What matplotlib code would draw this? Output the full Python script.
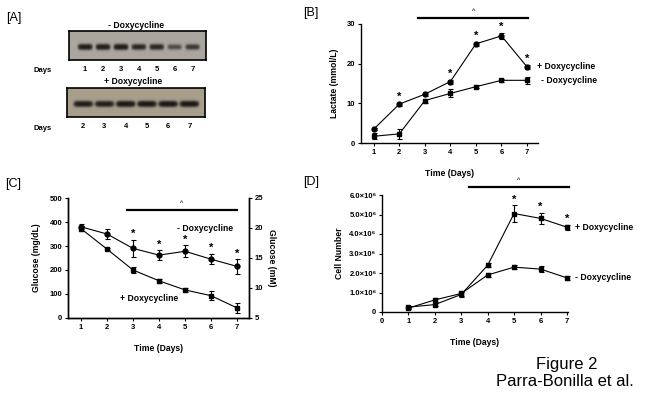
import matplotlib
matplotlib.use('Agg')
import matplotlib.pyplot as plt
import numpy as np

plt.rcParams['font.family'] = ['Liberation Sans', 'DejaVu Sans']
plt.rcParams['axes.linewidth'] = 1.0
plt.rcParams['xtick.major.size'] = 2
plt.rcParams['ytick.major.size'] = 2
plt.rcParams['xtick.major.width'] = 0.8
plt.rcParams['ytick.major.width'] = 0.8

# ---- data ----
days = [1, 2, 3, 4, 5, 6, 7]

# [A] western blot band intensities (0..1)
blot_minus_days = [1, 2, 3, 4, 5, 6, 7]
blot_minus_int = [0.85, 0.85, 0.90, 0.70, 0.70, 0.35, 0.50]
blot_plus_days = [2, 3, 4, 5, 6, 7]
blot_plus_int = [0.90, 0.85, 1.0, 1.0, 1.0, 1.0]

# [B] lactate (mmol/L)
lac_plus = [3.5, 9.8, 12.3, 15.5, 25.0, 27.0, 19.2]
lac_plus_err = [0.3, 0.4, 0.5, 0.5, 0.5, 0.8, 0.5]
lac_minus = [1.7, 2.3, 10.7, 12.5, 14.2, 15.8, 15.8]
lac_minus_err = [0.8, 1.3, 0.5, 1.0, 0.4, 0.3, 0.8]
lac_star = [2, 4, 5, 6, 7]

# [C] glucose (mg/dL)
glu_minus = [380, 350, 290, 262, 278, 245, 215]
glu_minus_err = [10, 20, 35, 20, 25, 22, 30]
glu_plus = [372, 287, 200, 155, 117, 93, 42]
glu_plus_err = [10, 5, 12, 8, 10, 18, 20]
glu_star = [3, 4, 5, 6, 7]

# [D] cell number
cell_plus = [0.25e6, 0.38e6, 0.90e6, 2.40e6, 5.05e6, 4.80e6, 4.35e6]
cell_plus_err = [0.05e6, 0.08e6, 0.15e6, 0.10e6, 0.42e6, 0.28e6, 0.12e6]
cell_minus = [0.20e6, 0.62e6, 0.95e6, 1.90e6, 2.30e6, 2.20e6, 1.75e6]
cell_minus_err = [0.05e6, 0.10e6, 0.15e6, 0.10e6, 0.10e6, 0.15e6, 0.12e6]
cell_star = [5, 6, 7]
cell_ticks = [0, 1e6, 2e6, 3e6, 4e6, 5e6, 6e6]
cell_ticklabels = ['0', '1.0×10⁶', '2.0×10⁶', '3.0×10⁶', '4.0×10⁶', '5.0×10⁶', '6.0×10⁶']

W, H = 653, 405
fig = plt.figure(figsize=(W / 100, H / 100), dpi=100)


def box(l, t, r, b):
    return [l / W, 1 - b / H, (r - l) / W, (b - t) / H]


def ftext(x, y, s, **kw):
    fig.text(x / W, 1 - y / H, s, **kw)


TS = 5.5   # tick label size
LS = 6.2   # axis label size


def style(ax):
    ax.spines['top'].set_visible(False)
    ax.spines['right'].set_visible(False)
    ax.tick_params(labelsize=TS, pad=2)
    for t in ax.get_xticklabels() + ax.get_yticklabels():
        t.set_fontweight('bold')


def series(ax, y, e, marker, ms=3.5):
    ax.errorbar(days, y, yerr=e, color='black', lw=0.8, marker=marker, ms=ms,
                capsize=1.8, elinewidth=0.8, capthick=0.8, clip_on=False, zorder=3)


def stars(ax, which, y, e):
    for d in which:
        i = days.index(d)
        ax.annotate('*', (d, y[i] + e[i]), xytext=(0, 0.5), textcoords='offset points',
                    ha='center', va='bottom', fontsize=8, fontweight='bold',
                    annotation_clip=False)


def sigbar(ax, x0, x1, y):
    ax.plot([x0, x1], [y, y], color='black', lw=1.6, clip_on=False)
    ax.annotate('^', ((x0 + x1) / 2, y), xytext=(0, 2), textcoords='offset points',
                ha='center', va='bottom', fontsize=5, annotation_clip=False)


# ---- [A] blots ----
def blot(rect, lanes, inten, xlim, bg, bw):
    ax = fig.add_axes(rect)
    xs = np.linspace(xlim[0], xlim[1], 300)
    ys = np.linspace(0, 1, 60)
    X, Y = np.meshgrid(xs, ys)
    img = np.zeros_like(X)
    for x, v in zip(lanes, inten):
        img += v * np.exp(-((X - x) / bw) ** 6) * np.exp(-((Y - 0.55) / 0.085) ** 2)
    img = 1 - np.exp(-2.6 * img)
    rgb = np.array(bg)[None, None, :] * (1 - img[..., None]) + np.array([0.06, 0.05, 0.05]) * img[..., None]
    ax.imshow(rgb, extent=[xlim[0], xlim[1], 0, 1], aspect='auto', origin='upper',
              interpolation='bilinear')
    ax.set_xlim(xlim)
    ax.set_ylim(0, 1)
    ax.set_yticks([])
    ax.set_xticks(lanes)
    ax.set_xticklabels([str(d) for d in lanes], fontsize=TS, fontweight='bold')
    ax.tick_params(axis='x', length=0, pad=4)
    for s in ax.spines.values():
        s.set_linewidth(1.2)
    return ax


blot(box(69, 31, 206, 60), blot_minus_days, blot_minus_int, (0.107, 7.74),
     [0.67, 0.65, 0.62], 0.38)
blot(box(67, 88, 205, 117), blot_plus_days, blot_plus_int, (1.24, 7.73),
     [0.66, 0.62, 0.55], 0.42)
ftext(136, 25, '- Doxycycline', ha='center', va='center', fontsize=LS, fontweight='bold')
ftext(133, 82, '+ Doxycycline', ha='center', va='center', fontsize=LS, fontweight='bold')
ftext(34, 71, 'Days', ha='left', va='center', fontsize=TS, fontweight='bold')
ftext(34, 129, 'Days', ha='left', va='center', fontsize=TS, fontweight='bold')

# ---- [B] lactate ----
axB = fig.add_axes(box(361, 24, 538, 143))
series(axB, lac_plus, lac_plus_err, 'o')
series(axB, lac_minus, lac_minus_err, 's')
axB.set_xlim(0.5, 7.43)
axB.set_ylim(0, 30)
axB.set_xticks(days)
axB.set_yticks([0, 10, 20, 30])
style(axB)
stars(axB, lac_star, lac_plus, lac_plus_err)
sigbar(axB, 2.74, 7.05, 31.5)
axB.annotate('+ Doxycycline', (7, lac_plus[-1]), xytext=(7, 0), textcoords='offset points',
             va='center', fontsize=LS, fontweight='bold')
axB.annotate('- Doxycycline', (7, lac_minus[-1]), xytext=(10, 0), textcoords='offset points',
             va='center', fontsize=LS, fontweight='bold')
axB.set_xlabel('Time (Days)', fontsize=LS, fontweight='bold', labelpad=10)
axB.set_ylabel('Lactate (mmol/L)', fontsize=LS, fontweight='bold', labelpad=6)

# ---- [C] glucose ----
axC = fig.add_axes(box(68, 198, 249, 318))
series(axC, glu_minus, glu_minus_err, 'o')
series(axC, glu_plus, glu_plus_err, 's')
axC.set_xlim(0.5, 7.46)
axC.set_ylim(0, 500)
axC.set_xticks(days)
axC.set_yticks([0, 100, 200, 300, 400, 500])
style(axC)
axC.spines['right'].set_visible(True)
stars(axC, glu_star, glu_minus, glu_minus_err)
sigbar(axC, 2.77, 7.0, 452)
axC.text(4.69, 371, '- Doxycycline', va='center', fontsize=LS, fontweight='bold')
axC.text(2.5, 80, '+ Doxycycline', va='center', fontsize=LS, fontweight='bold')
axC.set_xlabel('Time (Days)', fontsize=LS, fontweight='bold', labelpad=10)
axC.set_ylabel('Glucose (mg/dL)', fontsize=LS, fontweight='bold', labelpad=6)
axC2 = axC.twinx()
axC2.set_ylim(5, 25)
axC2.set_yticks([5, 10, 15, 20, 25])
axC2.spines['top'].set_visible(False)
axC2.tick_params(labelsize=TS, pad=2)
for t in axC2.get_yticklabels():
    t.set_fontweight('bold')
axC2.set_ylabel('Glucose (mM)', fontsize=LS, fontweight='bold', rotation=270, labelpad=9)

# ---- [D] cell number ----
axD = fig.add_axes(box(382, 195, 568, 312))
series(axD, cell_plus, cell_plus_err, 's', ms=3.2)
series(axD, cell_minus, cell_minus_err, 's', ms=3.2)
axD.set_xlim(0, 7.04)
axD.set_ylim(0, 6e6)
axD.set_xticks([0] + days)
axD.set_yticks(cell_ticks)
axD.set_yticklabels(cell_ticklabels)
style(axD)
stars(axD, cell_star, cell_plus, cell_plus_err)
sigbar(axD, 3.28, 7.08, 6.41e6)
axD.annotate('+ Doxycycline', (7, cell_plus[-1]), xytext=(6, 0), textcoords='offset points',
             va='center', fontsize=LS, fontweight='bold')
axD.annotate('- Doxycycline', (7, cell_minus[-1]), xytext=(6, 0), textcoords='offset points',
             va='center', fontsize=LS, fontweight='bold')
axD.set_xlabel('Time (Days)', fontsize=LS, fontweight='bold', labelpad=10)
axD.set_ylabel('Cell Number', fontsize=LS, fontweight='bold', labelpad=4)

# ---- panel labels and caption ----
for lab, x, y in [('[A]', 14, 18), ('[B]', 311, 13), ('[C]', 13, 184), ('[D]', 311, 182)]:
    ftext(x, y, lab, ha='center', va='center', fontsize=9)
ftext(567, 365, 'Figure 2', ha='center', va='center', fontsize=12)
ftext(565, 381, 'Parra-Bonilla et al.', ha='center', va='center', fontsize=12)

fig.savefig('out.png', dpi=100)
